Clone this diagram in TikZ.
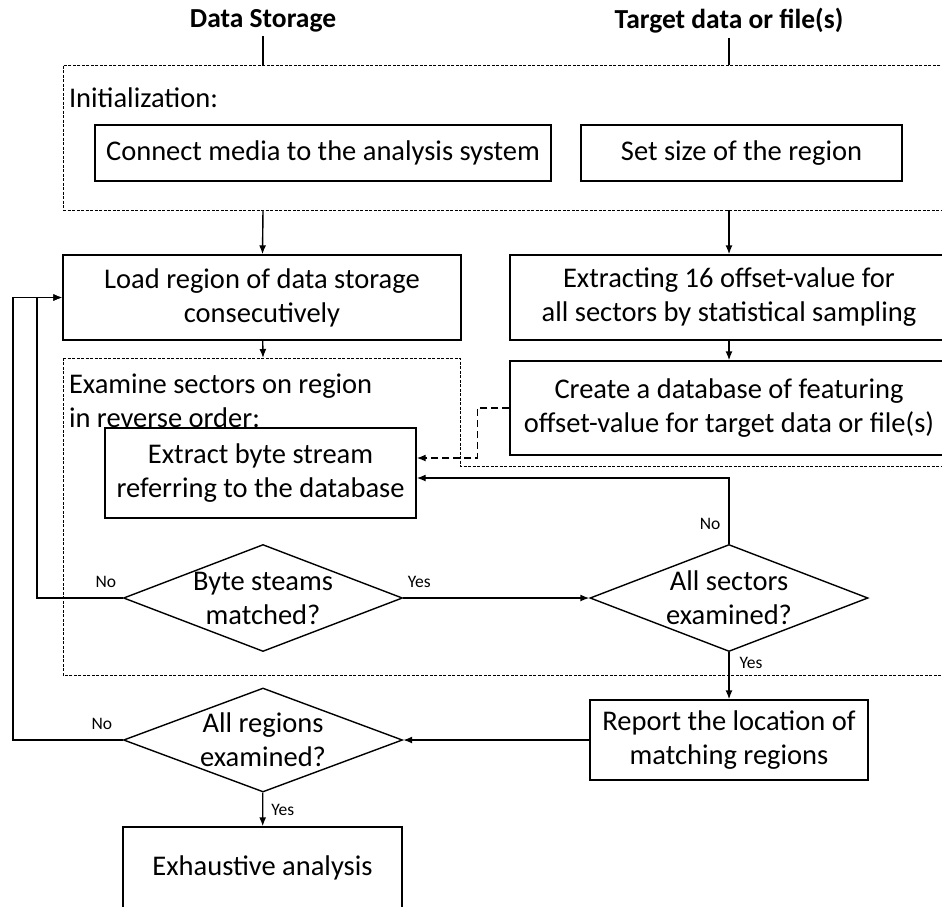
\documentclass[tikz,border=0pt]{standalone}
\usepackage{fontspec}
\setmainfont{Carlito}
\usetikzlibrary{shapes.geometric,arrows.meta,positioning}

\begin{document}
\begin{tikzpicture}[x=1pt,y=-1pt,line width=1.4pt,>={Latex[length=9pt,width=7pt]},
txt/.style={font=\fontsize{28.5}{34}\selectfont},
box/.style={txt,draw,rectangle,align=center,inner sep=0pt},
dia/.style={txt,draw,diamond,align=center,inner xsep=-45pt,inner ysep=-22pt},
dbox/.style={line width=0.9pt,dash pattern=on 3pt off 1.5pt},
lbl/.style={font=\fontsize{17.5}{20}\selectfont,inner sep=2pt},
ttl/.style={font=\fontsize{27.5}{32}\selectfont\bfseries}]
\useasboundingbox (0,0) rectangle (942,906);
\clip (0,0) rectangle (942,906);
\node[ttl] (ds) at (263,21) {Data Storage};
\node[ttl] (tg) at (729,21) {Target data or file(s)};
\node[dbox,draw,minimum width=897,minimum height=145,inner sep=0pt] (init) at (511.5,137.5) {};
\node[txt,anchor=west] (initl) at (65,98) {Initialization:};
\node[box,minimum width=456,minimum height=56] (conn) at (323,153) {Connect media to the analysis system};
\node[box,minimum width=321,minimum height=56] (size) at (741.5,153) {Set size of the region};
\node[box,minimum width=398,minimum height=85] (load) at (262,297.5) {Load region of data storage\\consecutively};
\node[box,minimum width=438,minimum height=85] (extr) at (729,297.5) {Extracting 16 offset-value for\\all sectors by statistical sampling};
\node[box,minimum width=438,minimum height=94] (crea) at (729,408) {Create a database of featuring\\offset-value for target data or file(s)};
\draw[dbox] (63,358) -- (460,358) -- (460,466) -- (960,466) -- (960,675) -- (63,675) -- cycle;
\coordinate (exa) at (63,358);
\node[txt,anchor=west,align=left] (exal) at (65,401) {Examine sectors on region\\in reverse order:};
\node[box,minimum width=311,minimum height=90] (ext) at (260.5,473) {Extract byte stream\\referring to the database};
\node[dia,minimum width=279,minimum height=107] (byt) at (263,598) {Byte steams\\matched?};
\node[dia,minimum width=278,minimum height=107] (sec) at (729,598) {All sectors\\examined?};
\node[box,minimum width=278,minimum height=80] (rep) at (729,740) {Report the location of\\matching regions};
\node[dia,minimum width=279,minimum height=104] (reg) at (263,740) {All regions\\examined?};
\node[box,minimum width=279,minimum height=82] (exh) at (262.5,868) {Exhaustive analysis};
\coordinate (lpa) at (37,300);
\coordinate (lpb) at (13,300);
\draw (ds) -- (ds |- init.north);
\draw (tg) -- (tg |- init.north);
\draw[->] (ds |- init.south) -- (load);
\draw[->] (tg |- init.south) -- (extr);
\draw[->] (load) -- (ds |- exa);
\draw[->] (extr) -- (crea);
\draw[->,dash pattern=on 7pt off 4pt] (crea.west) -- ++(-32,0) |- ([yshift=15pt]ext.east);
\draw[->] (sec) |- node[lbl,pos=0.15,left=6pt] (nosec) {No} ([yshift=-5pt]ext.east);
\draw[->] (byt) -- node[lbl,pos=0,above right=8pt and 2pt] (yesbyt) {Yes} (sec);
\draw[->] (sec) -- node[lbl,pos=0,below right=2pt and 8pt] (yessec) {Yes} (rep);
\draw[->] (rep) -- (reg);
\draw[->] (reg) -- node[lbl,right=6pt] (yesreg) {Yes} (exh);
\draw[->] (byt.west) -- node[lbl,pos=0,above left=8pt and 4pt] (nobyt) {No} (byt.west -| lpa) |- (load.west);
\draw[->] (reg.west) -- node[lbl,pos=0,above left=8pt and 8pt] (noreg) {No} (reg.west -| lpb) |- (load.west);
\end{tikzpicture}
\end{document}
